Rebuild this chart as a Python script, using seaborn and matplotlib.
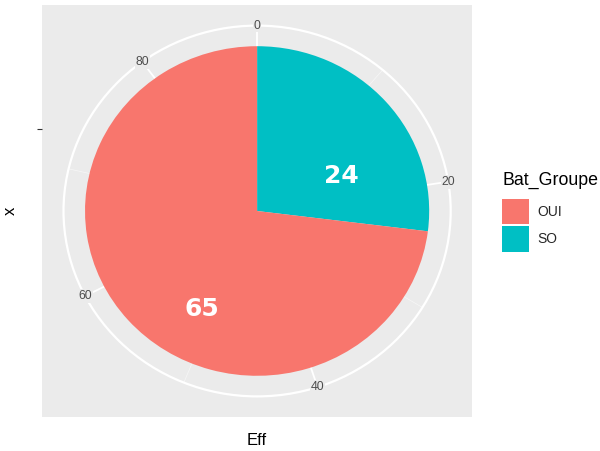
import numpy as np
import matplotlib.pyplot as plt
import seaborn as sns
from matplotlib.patches import Patch, Circle


# data
bat_groupe = ['OUI', 'SO']
eff = [65, 24]
theta_breaks = [0, 20, 40, 60, 80]
theta_minor = [10, 30, 50, 70]

palette = {'OUI': '#F8766D', 'SO': '#00BFC4'}

sns.set_theme(style='darkgrid', rc={'axes.facecolor': '#EBEBEB', 'figure.facecolor': 'white'})
plt.rcParams['font.family'] = ['Liberation Sans', 'DejaVu Sans']

fig = plt.figure(figsize=(6, 4.51), dpi=100)
ax = fig.add_axes([0.07, 0.0754, 0.717, 0.9135])

total = sum(eff)
ring_r = 1.125


def polar(v, r):
    a = np.deg2rad(90 - v / total * 360)
    return r * np.cos(a), r * np.sin(a)


# ggplot stacks the last level first, so SO starts at 0 (top) going clockwise
order = bat_groupe[::-1]
vals = [eff[bat_groupe.index(g)] for g in order]
ax.pie(vals, colors=[palette[g] for g in order], startangle=90, counterclock=False,
       radius=1, center=(0, 0), frame=True, wedgeprops=dict(linewidth=0, zorder=2))

# polar grid: outer ring + spokes
ax.add_patch(Circle((0, 0), ring_r, fill=False, ec='white', lw=1.6, zorder=1))
for v in theta_breaks:
    x, y = polar(v, ring_r)
    ax.plot([0, x], [0, y], color='white', lw=1.3, zorder=1)
for v in theta_minor:
    x, y = polar(v, ring_r)
    ax.plot([0, x], [0, y], color='white', lw=0.5, alpha=0.6, zorder=1)

for v in theta_breaks:
    x, y = polar(v, ring_r)
    ax.text(x, y, str(v), ha='center', va='center', fontsize=8.8, color='#4D4D4D',
            bbox=dict(fc='#EBEBEB', ec='none', pad=0.6), zorder=3)

# value labels (placed where the original R code put them)
label_theta = {'OUI': 51.5, 'SO': 16.4}
label_r = {'OUI': 0.675, 'SO': 0.532}
for g, n in zip(bat_groupe, eff):
    x, y = polar(label_theta[g], label_r[g])
    ax.text(x, y, str(n), ha='center', va='center', fontsize=18, fontweight='bold',
            color='white', family='DejaVu Sans', zorder=4)

ax.set_aspect('auto')
ax.set_xlim(-1.25, 1.25)
ax.set_ylim(-1.25, 1.25)
ax.grid(False)
ax.set_xticks([])
ax.set_yticks([0.5])
ax.set_yticklabels([''])
ax.tick_params(axis='y', left=True, length=3.5, width=0.8, color='#333333')
for s in ax.spines.values():
    s.set_visible(False)

ax.set_xlabel('Eff', fontsize=12, color='black')
ax.set_ylabel('x', fontsize=12, color='black')
ax.xaxis.set_label_coords(0.5, -0.04)
ax.yaxis.set_label_coords(-0.056, 0.5)

# legend (title drawn separately to get ggplot's gap under it)
fig.text(0.837, 0.601, 'Bat_Groupe', fontsize=12.8, color='black', ha='left', va='center')
handles = [Patch(facecolor=palette[g], edgecolor='none', label=g) for g in bat_groupe]
fig.legend(handles=handles, loc='upper left', bbox_to_anchor=(0.837, 0.559),
           frameon=False, fontsize=10, handlelength=1.9, handleheight=2.45,
           labelspacing=0.12, handletextpad=0.65, borderaxespad=0, borderpad=0)

plt.savefig('out.png', dpi=100)
